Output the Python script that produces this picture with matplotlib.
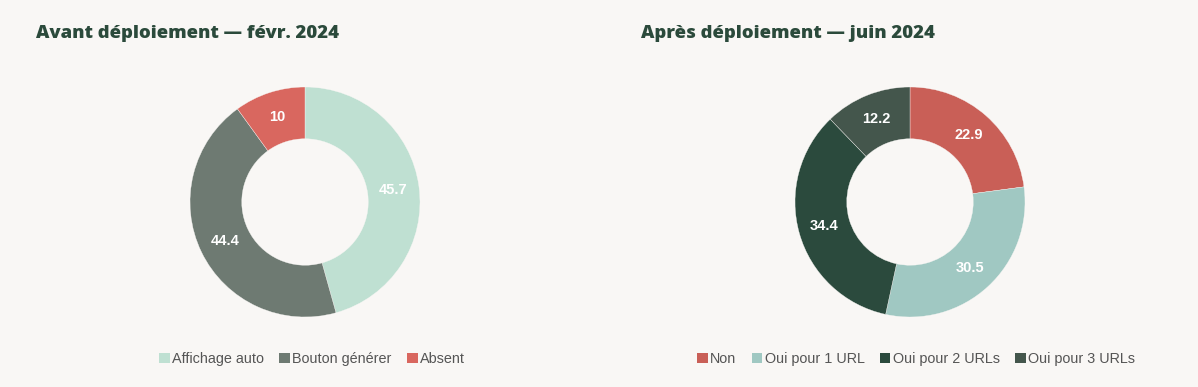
import matplotlib
matplotlib.use('Agg')
import matplotlib.pyplot as plt
from matplotlib.patches import Patch
import numpy as np

# data
before_labels = ['Affichage auto', 'Bouton générer', 'Absent']
before_values = [45.7, 44.4, 10]
before_colors = ['#bfe0d2', '#6e7a72', '#d9675f']

after_labels = ['Non', 'Oui pour 1 URL', 'Oui pour 2 URLs', 'Oui pour 3 URLs']
after_values = [22.9, 30.5, 34.4, 12.2]
after_colors = ['#c95f57', '#a0c8c2', '#2b4a3d', '#44564c']

titles = ['Avant déploiement — févr. 2024', 'Après déploiement — juin 2024']

bg = '#f9f7f5'
W, H = 1198, 387
fig = plt.figure(figsize=(W / 100, H / 100), dpi=100, facecolor=bg)


def donut(cx, cy, values, labels, colors, title, title_x, leg_cx):
    r = 115
    ax = fig.add_axes([(cx - r) / W, (H - cy - r) / H, 2 * r / W, 2 * r / H])
    ax.set_facecolor(bg)
    ax.pie(values, colors=colors, startangle=90, counterclock=False,
           radius=1, wedgeprops=dict(width=0.45, edgecolor=bg, linewidth=0.25))
    total = sum(values)
    start = 90
    for v in values:
        mid = np.deg2rad(start - v / total * 360 / 2)
        start -= v / total * 360
        ax.text(0.775 * np.cos(mid), 0.775 * np.sin(mid), f'{v:g}', ha='center', va='center',
                color='white', fontsize=10.5, fontweight='bold', family='Liberation Sans')
    ax.set_xlim(-1, 1)
    ax.set_ylim(-1, 1)
    ax.set_aspect('equal')
    ax.axis('off')

    fig.text(title_x / W, 1 - 33 / H, title, ha='left', va='center', fontsize=13.3,
             fontweight='heavy', color='#2b4a3b', family='Open Sans')

    handles = [Patch(facecolor=c, edgecolor='none') for c in colors]
    fig.legend(handles, labels, loc='center', bbox_to_anchor=(leg_cx / W, 1 - 359 / H),
               ncol=len(labels), frameon=False, handlelength=0.75, handleheight=0.75,
               handletextpad=0.15, columnspacing=1.05,
               prop={'family': 'Liberation Sans', 'size': 10.4}, labelcolor='#555555')


donut(305, 202, before_values, before_labels, before_colors, titles[0], 36, 312)
donut(910, 202, after_values, after_labels, after_colors, titles[1], 641, 916)

fig.savefig('out.png', dpi=100, facecolor=bg)
